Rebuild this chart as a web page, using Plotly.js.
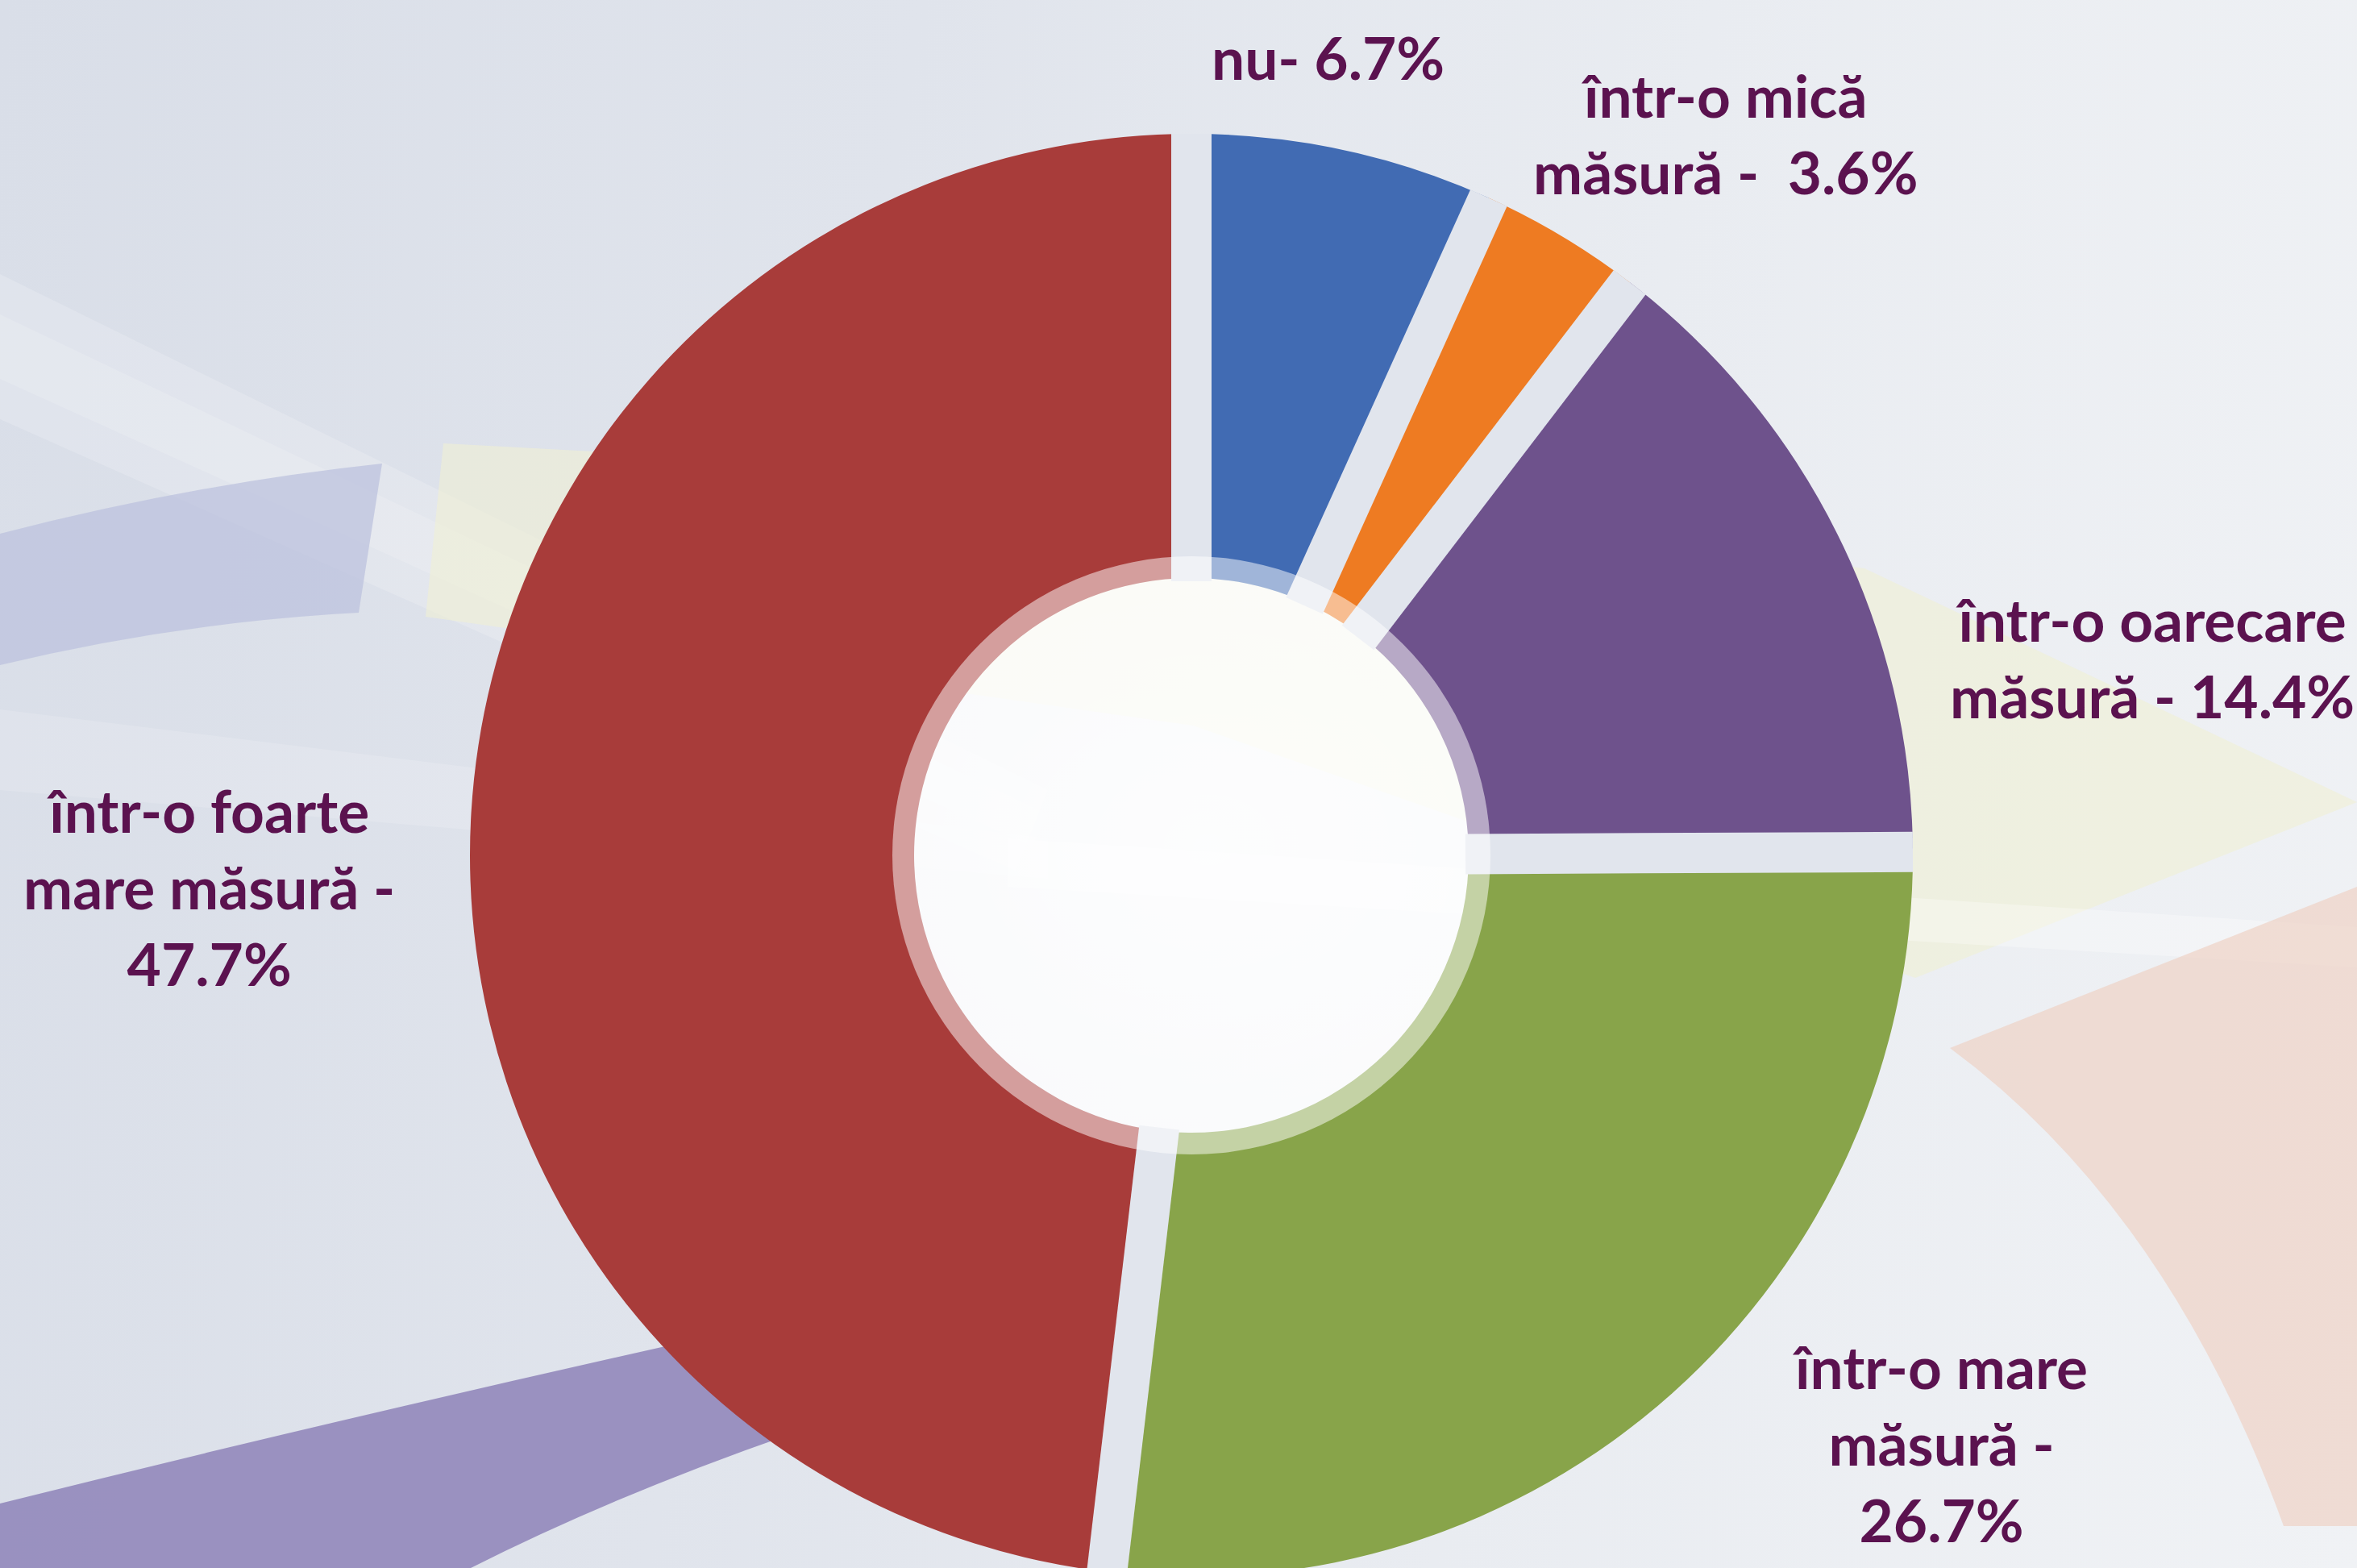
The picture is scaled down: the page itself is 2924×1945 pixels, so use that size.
<!DOCTYPE html>
<html>
<head>
<meta charset="utf-8">
<script src="https://cdn.plot.ly/plotly-3.0.1.min.js"></script>
<style>
  html, body { margin:0; padding:0; overflow:hidden; }
  #wrap { position:relative; width:2924px; height:1945px; overflow:hidden;
    background:
      radial-gradient(ellipse 900px 700px at 1500px 1050px, rgba(255,255,255,0.55), rgba(255,255,255,0) 70%),
      linear-gradient(100deg, #d9dee8 0%, #e0e4ec 35%, #e9ecf1 65%, #f0f2f5 100%);
  }
  #chart { position:absolute; left:0; top:0; width:2924px; height:2000px; }
</style>
</head>
<body>
<div id="wrap"><div id="chart"></div></div>
<script>
// ---- data ----
const categories = ['nu', 'într-o mică măsură', 'într-o oarecare măsură', 'într-o mare măsură', 'într-o foarte mare măsură'];
const values = [6.7, 3.6, 14.4, 26.7, 47.7];
const colors = ['#416bb3', '#ee7b22', '#6e528c', '#88a44a', '#a83c3a'];
const labelLines = [
  ['nu- 6.7%'],
  ['într-o mică', 'măsură -\u00a0 3.6%'],
  ['într-o oarecare', 'măsură - 14.4%'],
  ['într-o mare', 'măsură -', '26.7%'],
  ['într-o foarte', 'mare măsură -', '47.7%']
];

// ---- geometry (pixels) ----
const W = 2924, H = 2000;
const cx = 1478, cy = 1061, R = 895;
const rInner = 344, rRing = 371, gap = 50;
const labelPos = [[1647, 71], [2141, 165], [2670, 816], [2406, 1790], [259, 1100]];

const X = x => x / W;
const Y = y => 1 - y / H;
const P = (x, y) => X(x).toFixed(5) + ',' + Y(y).toFixed(5);

const trace = {
  type: 'pie',
  labels: categories,
  values: values,
  marker: { colors: colors, line: { width: 0 } },
  hole: rInner / R,
  sort: false,
  direction: 'clockwise',
  rotation: 0,
  textinfo: 'none',
  hoverinfo: 'skip',
  showlegend: false,
  domain: { x: [X(cx - R), X(cx + R)], y: [Y(cy + R), Y(cy - R)] }
};

const shapes = [];
// soft light rays (below everything)
shapes.push({ type: 'path', layer: 'below', line: { width: 0 }, fillcolor: 'rgba(255,255,255,0.18)',
  path: 'M' + P(0, 340) + ' L' + P(1300, 980) + ' L' + P(1260, 1080) + ' L' + P(0, 520) + ' Z' });
shapes.push({ type: 'path', layer: 'below', line: { width: 0 }, fillcolor: 'rgba(255,255,255,0.15)',
  path: 'M' + P(0, 390) + ' L' + P(1300, 1010) + ' L' + P(1280, 1050) + ' L' + P(0, 470) + ' Z' });
shapes.push({ type: 'path', layer: 'below', line: { width: 0 }, fillcolor: 'rgba(255,255,255,0.15)',
  path: 'M' + P(0, 880) + ' L' + P(1300, 1040) + ' L' + P(1300, 1090) + ' L' + P(0, 980) + ' Z' });
// background decorations
shapes.push({ type: 'path', layer: 'below', line: { width: 0 }, fillcolor: 'rgba(188,194,222,0.75)',
  path: 'M' + P(0, 662) + ' Q' + P(240, 600) + ' ' + P(474, 575) + ' L' + P(445, 760) + ' Q' + P(220, 772) + ' ' + P(0, 825) + ' Z' });
shapes.push({ type: 'path', layer: 'below', line: { width: 0 }, fillcolor: 'rgba(240,240,212,0.6)',
  path: 'M' + P(550, 550) + ' L' + P(1480, 600) + ' L' + P(2313, 705) + ' L' + P(2924, 995) + ' L' + P(2376, 1213) + ' L' + P(1480, 900) + ' L' + P(528, 765) + ' Z' });
shapes.push({ type: 'path', layer: 'below', line: { width: 0 }, fillcolor: 'rgba(255,255,255,0.3)',
  path: 'M' + P(1250, 1040) + ' L' + P(2924, 1150) + ' L' + P(2924, 1200) + ' L' + P(1250, 1100) + ' Z' });
shapes.push({ type: 'path', layer: 'below', line: { width: 0 }, fillcolor: 'rgba(238,208,194,0.65)',
  path: 'M' + P(2419, 1300) + ' L' + P(2924, 1100) + ' L' + P(2924, 1893) + ' L' + P(2833, 1893) + ' Q' + P(2690, 1500) + ' ' + P(2419, 1300) + ' Z' });
shapes.push({ type: 'path', layer: 'below', line: { width: 0 }, fillcolor: 'rgba(150,140,190,0.95)',
  path: 'M' + P(0, 1865) + ' Q' + P(700, 1690) + ' ' + P(1500, 1525) + ' L' + P(1500, 1630) + ' Q' + P(950, 1760) + ' ' + P(584, 1945) + ' L' + P(0, 1945) + ' Z' });
// whitened hole
shapes.push({ type: 'circle', layer: 'below', line: { width: 0 }, fillcolor: 'rgba(255,255,255,0.5)',
  x0: X(cx - rInner), x1: X(cx + rInner), y0: Y(cy + rInner), y1: Y(cy - rInner) });

// gaps between slices, at the slice boundaries computed from the data
const total = values.reduce((a, b) => a + b, 0);
let cum = 0;
for (let k = 0; k < values.length; k++) {
  const th = 2 * Math.PI * cum / total;
  const sx = Math.sin(th), sy = -Math.cos(th);
  shapes.push({ type: 'line', layer: 'above', line: { color: '#e1e5ed', width: gap },
    x0: X(cx + sx * (rInner - 4)), y0: Y(cy + sy * (rInner - 4)),
    x1: X(cx + sx * R), y1: Y(cy + sy * R) });
  cum += values[k];
}
// translucent inner ring
shapes.push({ type: 'circle', layer: 'above', line: { width: 0 }, fillcolor: 'rgba(255,255,255,0.5)',
  x0: X(cx - rRing), x1: X(cx + rRing), y0: Y(cy + rRing), y1: Y(cy - rRing) });

const annotations = labelLines.map((lines, i) => ({
  xref: 'paper', yref: 'paper',
  x: X(labelPos[i][0]), y: Y(labelPos[i][1]),
  xanchor: 'center', yanchor: 'middle', align: 'center',
  text: lines.join('<br>'),
  showarrow: false,
  font: { family: 'Lato, "Open Sans", sans-serif', size: 73, weight: 'bold', color: '#5b124f' }
}));

const layout = {
  width: W, height: H,
  margin: { l: 0, r: 0, t: 0, b: 0, pad: 0 },
  paper_bgcolor: 'rgba(0,0,0,0)',
  plot_bgcolor: 'rgba(0,0,0,0)',
  showlegend: false,
  shapes: shapes,
  annotations: annotations
};

Plotly.newPlot('chart', [trace], layout, { staticPlot: true, displayModeBar: false });
</script>
</body>
</html>
